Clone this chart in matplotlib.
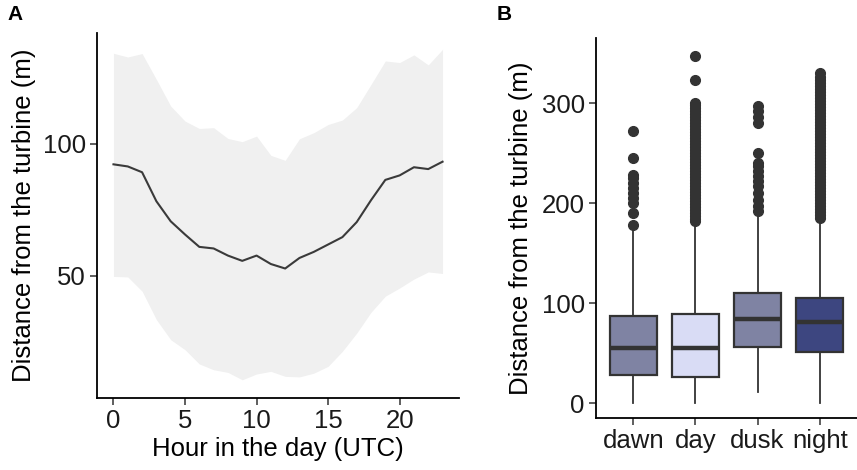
import matplotlib
matplotlib.use("Agg")
import matplotlib.pyplot as plt

plt.rcParams['font.family'] = ['Liberation Sans', 'DejaVu Sans']

# panel A: mean distance per hour with spread band
hours = list(range(24))
mean_dist = [92.2, 91.4, 89.2, 78.2, 70.6, 65.6, 60.9, 60.3, 57.6, 55.6, 57.6, 54.4,
             52.7, 56.7, 59.0, 61.8, 64.6, 70.3, 78.6, 86.3, 88.0, 91.1, 90.4, 93.2]
upper = [134.3, 132.9, 134.2, 124.4, 114.3, 108.6, 105.8, 106.1, 102.0, 100.8, 102.9, 95.6,
         93.7, 101.9, 104.2, 107.3, 109.0, 113.7, 122.5, 131.4, 130.8, 133.7, 129.9, 135.8]
lower = [49.7, 49.5, 44.1, 33.3, 25.7, 21.9, 16.5, 14.3, 13.3, 10.5, 12.7, 13.7,
         11.8, 11.6, 13.0, 15.6, 21.3, 28.2, 36.1, 42.2, 45.3, 48.7, 51.4, 50.8]

# panel B: box stats per period
periods = ["dawn", "day", "dusk", "night"]
q1 = [28.3, 26.7, 56.7, 51.7]
med = [55.0, 55.7, 84.7, 81.3]
q3 = [87.7, 89.3, 110.0, 105.7]
whis_lo = [0.5, 0.5, 11.7, 0.5]
whis_hi = [176.0, 180.0, 188.0, 183.0]
fliers_dawn = [178, 190, 200, 205, 210, 215, 220, 225, 228, 245, 272]
fliers_day = [182, 184, 187, 190, 193, 196, 199, 202, 205, 208, 211, 214, 217, 220, 223,
              226, 229, 232, 235, 238, 241, 244, 247, 250, 253, 256, 259, 262, 265, 268,
              271, 274, 277, 280, 283, 286, 289, 292, 295, 298, 300, 323, 347]
fliers_dusk = [192, 197, 203, 210, 217, 222, 227, 232, 237, 240, 250, 280, 286, 292, 297]
fliers_night = [185, 188, 191, 194, 197, 200, 203, 206, 209, 212, 215, 218, 221, 224, 227,
                230, 233, 236, 239, 242, 245, 248, 251, 254, 257, 260, 263, 266, 269, 272,
                275, 278, 281, 284, 287, 290, 293, 296, 299, 302, 305, 308, 311, 314, 317,
                320, 323, 326, 330]
box_colors = ["#7f83a3", "#d9dcf5", "#7f83a3", "#3d4680"]

fig = plt.figure(figsize=(8.57, 4.70), dpi=100)

# ---- panel A
axA = fig.add_axes([0.1132, 0.1532, 0.4224, 0.7766])
axA.fill_between(hours, lower, upper, color="#f0f0f0", linewidth=0)
axA.plot(hours, mean_dist, color="#3a3a3a", linewidth=1.5)
axA.set_xlim(-1.15, 24.15)
axA.set_ylim(3.6, 142)
axA.set_xticks([0, 5, 10, 15, 20])
axA.set_yticks([50, 100])
axA.set_xlabel("Hour in the day (UTC)", fontsize=18.5, labelpad=3)
axA.set_ylabel("Distance from the turbine (m)", fontsize=18.5, labelpad=5)

# ---- panel B
stats = []
fliers = [fliers_dawn, fliers_day, fliers_dusk, fliers_night]
for i in range(len(periods)):
    stats.append(dict(label=periods[i], q1=q1[i], med=med[i], q3=q3[i],
                      whislo=whis_lo[i], whishi=whis_hi[i], fliers=fliers[i]))

axB = fig.add_axes([0.6954, 0.1106, 0.3046, 0.8085])
bp = axB.bxp(stats, positions=[1, 2, 3, 4], widths=0.75, patch_artist=True,
             showcaps=False,
             boxprops=dict(edgecolor="#333333", linewidth=1.6),
             medianprops=dict(color="#333333", linewidth=3.2, solid_capstyle="butt"),
             whiskerprops=dict(color="#333333", linewidth=1.3),
             flierprops=dict(marker="o", markerfacecolor="#333333",
                             markeredgecolor="#333333", markersize=7))
for patch, c in zip(bp["boxes"], box_colors):
    patch.set_facecolor(c)
axB.set_xlim(0.4, 4.6)
axB.set_ylim(-14.7, 365.3)
axB.set_yticks([0, 100, 200, 300])
axB.set_ylabel("Distance from the turbine (m)", fontsize=18.5, labelpad=6)

for ax in (axA, axB):
    ax.spines["top"].set_visible(False)
    ax.spines["right"].set_visible(False)
    ax.spines["left"].set_linewidth(1.3)
    ax.spines["bottom"].set_linewidth(1.3)
    ax.tick_params(labelsize=18.5, length=5, width=1.1, color="#333333",
                   labelcolor="#1a1a1a", pad=3)

fig.text(0.009, 0.99, "A", fontsize=15, fontweight="bold", va="top")
fig.text(0.580, 0.99, "B", fontsize=15, fontweight="bold", va="top")

fig.savefig("out.png", dpi=100)
